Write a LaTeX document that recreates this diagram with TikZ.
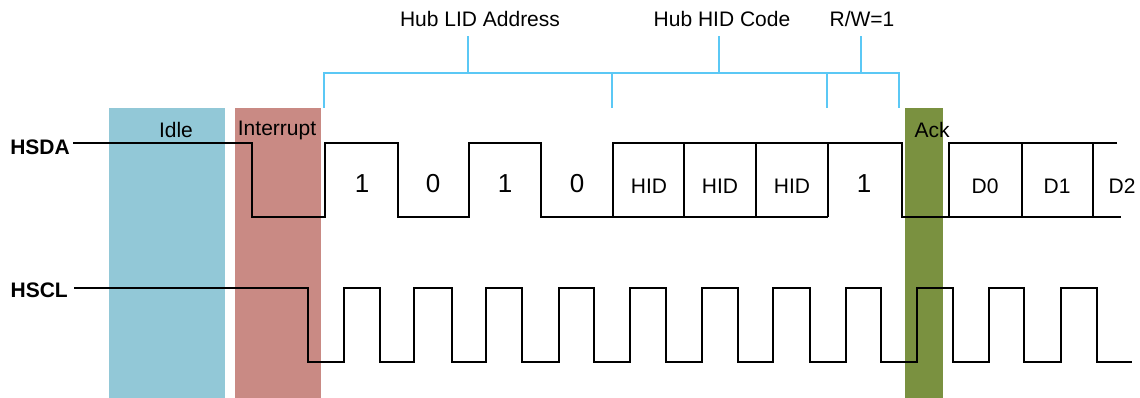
\documentclass[tikz,border=0pt]{standalone}
\usepackage{fontspec}
\setmainfont{Liberation Sans}
\definecolor{idleblue}{HTML}{92C8D7}
\definecolor{intred}{HTML}{C98A84}
\definecolor{ackgreen}{HTML}{7A9140}
\definecolor{brk}{HTML}{5BC8F5}
\begin{document}
\begin{tikzpicture}[x=1pt,y=-1pt,
  txt/.style={font=\fontsize{21}{25}\selectfont, inner sep=0pt},
  bit/.style={font=\fontsize{26}{30}\selectfont, inner sep=0pt},
  sig/.style={font=\fontsize{21}{25}\selectfont\bfseries, inner sep=0pt},
  wave/.style={line width=2.6pt, line join=miter},
  bracket/.style={draw=brk, line width=2.6pt}]
\useasboundingbox (0,0) rectangle (1140,398);
% bands
\fill[idleblue] (109,108) rectangle (225,398);
\fill[intred] (235,108) rectangle (321,398);
\fill[ackgreen] (905,108) rectangle (943,398);
\node[txt] (idle) at (176,130) {Idle};
\node[txt] (intr) at (277,130) {Interrupt};
\node[txt] (ack) at (932,130) {Ack};
% signal names
\node[sig, anchor=east] (hsda) at (70,147) {HSDA};
\node[sig, anchor=east] (hscl) at (68,290) {HSCL};
% HSDA
\draw[wave] (73,143) -- (252,143) -- (252,217) -- (325,217) -- (325,143) -- (398,143) -- (398,217)
  -- (469,217) -- (469,143) -- (541,143) -- (541,217) -- (828,217);
\draw[wave] (613,217) -- (613,143) -- (902,143) -- (902,217) -- (1121,217);
\draw[wave] (684,143) -- (684,217);
\draw[wave] (756,143) -- (756,217);
\draw[wave] (828,143) -- (828,217);
\draw[wave] (1117,143) -- (949,143) -- (949,217);
\draw[wave] (1022,143) -- (1022,217);
\draw[wave] (1093,143) -- (1093,217);
% bit labels
\node[bit] (b1) at (362,184) {1};
\node[bit] (b2) at (433,184) {0};
\node[bit] (b3) at (505,184) {1};
\node[bit] (b4) at (577,184) {0};
\node[txt] (h1) at (649,186) {HID};
\node[txt] (h2) at (720,186) {HID};
\node[txt] (h3) at (792,186) {HID};
\node[bit] (rw) at (864,184) {1};
\node[txt] (d0) at (985,186) {D0};
\node[txt] (d1) at (1057,186) {D1};
\node[txt] (d2) at (1122,186) {D2};
% HSCL
\draw[wave] (74,288) -- (308,288) -- (308,362)
  -- (344,362) -- (344,288) -- (380,288) -- (380,362)
  -- (414,362) -- (414,288) -- (452,288) -- (452,362)
  -- (486,362) -- (486,288) -- (522,288) -- (522,362)
  -- (559,362) -- (559,288) -- (594,288) -- (594,362)
  -- (630,362) -- (630,288) -- (666,288) -- (666,362)
  -- (702,362) -- (702,288) -- (738,288) -- (738,362)
  -- (773,362) -- (773,288) -- (810,288) -- (810,362)
  -- (846,362) -- (846,288) -- (881,288) -- (881,362)
  -- (917,362) -- (917,288) -- (953,288) -- (953,362)
  -- (989,362) -- (989,288) -- (1024,288) -- (1024,362)
  -- (1061,362) -- (1061,288) -- (1097,288) -- (1097,362)
  -- (1132,362);
% top bracket
\coordinate (bl) at (324,73);
\coordinate (br) at (899,73);
\draw[bracket] (324,108) -- (bl) -- (br) -- (899,108);
\draw[bracket] (612,73) -- (612,108);
\draw[bracket] (827,73) -- (827,108);
\node[txt] (lid) at (480,19) {Hub LID Address};
\node[txt] (hid) at (722,19) {Hub HID Code};
\node[txt] (rwl) at (862,19) {R/W=1};
\draw[bracket] (468,73) -- (468,36);
\draw[bracket] (719,73) -- (719,36);
\draw[bracket] (861,73) -- (861,36);
\end{tikzpicture}
\end{document}
